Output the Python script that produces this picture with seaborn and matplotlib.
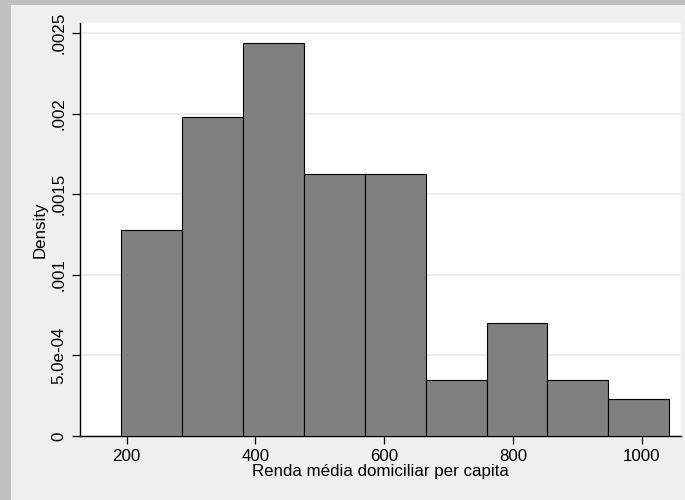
import matplotlib
matplotlib.use("Agg")
import matplotlib.pyplot as plt
from matplotlib.patches import Rectangle
import numpy as np
import pandas as pd
import seaborn as sns

# ---- data ----
bin_edges = [192.0, 286.5, 381.0, 475.5, 570.0, 664.5, 759.0, 853.4, 947.9, 1042.4]
bin_counts = [11, 17, 21, 14, 14, 3, 6, 3, 2]          # observations per bin (N = 91)
x_ticks = [200, 400, 600, 800, 1000]
y_ticks = [0, 0.0005, 0.001, 0.0015, 0.002, 0.0025]
y_tick_labels = ["0", "5.0e-04", ".001", ".0015", ".002", ".0025"]
x_label = "Renda média domiciliar per capita"
y_label = "Density"

centers = [(a + b) / 2 for a, b in zip(bin_edges[:-1], bin_edges[1:])]
df = pd.DataFrame({"renda": centers, "n": bin_counts})

sns.set_style("white")
plt.rcParams["font.family"] = ["Liberation Sans", "DejaVu Sans"]

W, H = 685, 500
fig = plt.figure(figsize=(W / 100, H / 100), dpi=100, facecolor="#efefef")
# outer darker frame (left and top strips)
fig.patches.append(Rectangle((0, 0), 11 / W, 1, transform=fig.transFigure,
                             facecolor="#bfbfbf", edgecolor="none", zorder=-1))
fig.patches.append(Rectangle((0, 1 - 5 / H), 1, 5 / H, transform=fig.transFigure,
                             facecolor="#bfbfbf", edgecolor="none", zorder=-1))

left, right = 79.5 / W, 681 / W
bottom, top = 1 - 436 / H, 1 - 22.7 / H
ax = fig.add_axes([left, bottom, right - left, top - bottom])
ax.set_facecolor("white")

sns.histplot(data=df, x="renda", weights="n", bins=bin_edges, stat="density",
             color="#808080", edgecolor="black", linewidth=0.8, alpha=1, ax=ax,
             zorder=3)

ax.set_xlim(127, 1061)
ax.set_ylim(0, 0.002565)

ax.set_yticks(y_ticks)
ax.set_yticklabels(y_tick_labels, rotation=90, va="center")
ax.set_xticks(x_ticks)
ax.set_xticklabels([str(t) for t in x_ticks])

ax.grid(axis="y", color="#eaeaea", linewidth=1.1, zorder=0)
ax.grid(axis="x", visible=False)
ax.set_axisbelow(True)

for s in ["top", "right"]:
    ax.spines[s].set_visible(False)
for s in ["left", "bottom"]:
    ax.spines[s].set_color("black")
    ax.spines[s].set_linewidth(1.0)

ax.tick_params(axis="both", which="major", direction="out", length=5.5, width=0.9,
               color="black", labelsize=12.2, labelcolor="black", pad=4,
               left=True, bottom=True)

ax.set_xlabel(x_label, fontsize=12.2, color="black", labelpad=0)
ax.set_ylabel(y_label, fontsize=12.2, color="black", labelpad=3)

fig.savefig("out.png", dpi=100, facecolor=fig.get_facecolor())
